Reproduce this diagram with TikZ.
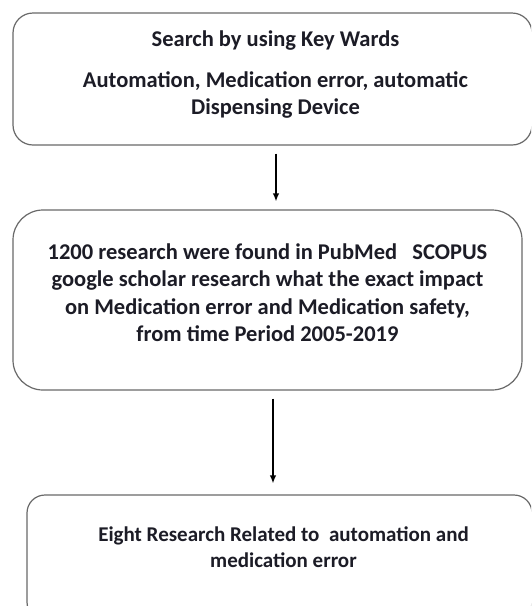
\documentclass[tikz,border=0pt]{standalone}
\usepackage{fontspec}
\setmainfont{Carlito}
\usetikzlibrary{arrows.meta}
\definecolor{boxline}{RGB}{105,105,105}
\definecolor{txt}{RGB}{28,28,38}
\tikzset{
  flowbox/.style={draw=boxline, line width=1.2pt, minimum width=#1, inner sep=0pt},
  flowtext/.style={align=center, text=txt, inner sep=0pt,
    font=\fontsize{22.5}{27.5}\selectfont\bfseries},
  arr/.style={-{Latex[length=8pt,width=6.5pt]}, line width=1.4pt, black}
}
\begin{document}
\begin{tikzpicture}[x=1pt,y=-1pt]
\useasboundingbox (0,0) rectangle (531,606);
\clip (0,0) rectangle (531,606);
\fill[white] (0,0) rectangle (531,606);
% boxes
\node[flowbox=519pt, minimum height=132pt, rounded corners=20pt] (b1) at (272.5,79) {};
\node[flowbox=509pt, minimum height=180pt, rounded corners=30pt] (b2) at (267.5,300) {};
\node[flowbox=505pt, minimum height=125pt, rounded corners=18pt] (b3) at (279.5,557.5) {};
% texts
\node[flowtext] (t1) at ([xshift=3pt,yshift=4.5pt]b1.center)
  {Search by using Key Wards\\[13.5pt]Automation, Medication error, automatic\\Dispensing Device};
\node[flowtext] (t2) at ([yshift=7.5pt]b2.center)
  {1200 research were found in PubMed\ \ \ SCOPUS\\google scholar research what the exact impact\\on Medication error and Medication safety,\\from time Period 2005-2019};
\node[flowtext, font=\fontsize{21}{26}\selectfont\bfseries] (t3) at ([xshift=4pt,yshift=10pt]b3.center)
  {Eight Research Related to\ \ automation and\\medication error};
% arrows
\draw[arr] ([xshift=3.5pt,yshift=-8pt]b1.south) -- ([xshift=8.5pt,yshift=8pt]b2.north);
\draw[arr] ([xshift=5.5pt,yshift=-8pt]b2.south) -- ([xshift=-6.5pt,yshift=11pt]b3.north);
\end{tikzpicture}
\end{document}
